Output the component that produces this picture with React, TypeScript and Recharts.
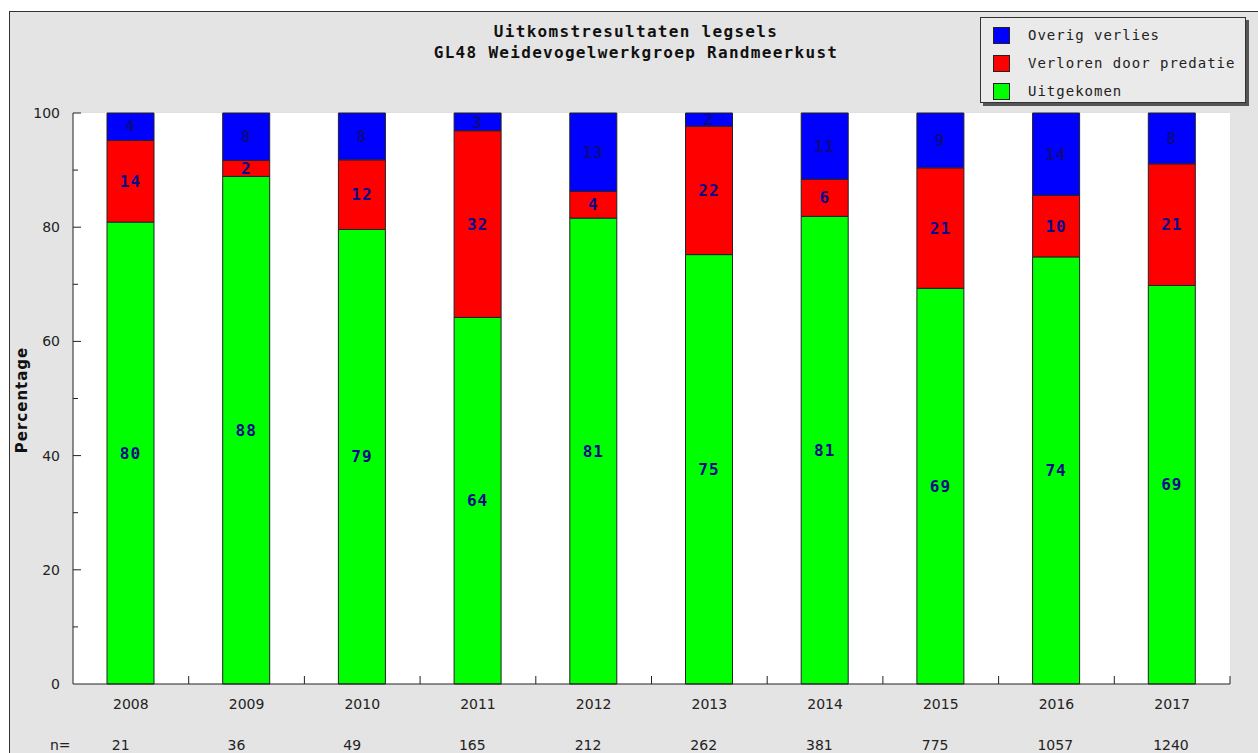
import React from 'react';
import {
 BarChart,
 Bar,
 XAxis,
 YAxis,
 CartesianGrid,
 LabelList,
 Legend
} from 'recharts';

const years = ['2008', '2009', '2010', '2011', '2012', '2013', '2014', '2015', '2016', '2017'];
const nCounts = [21, 36, 49, 165, 212, 262, 381, 775, 1057, 1240];
const uitgekomen = [80.9, 88.9, 79.6, 64.2, 81.6, 75.2, 81.9, 69.3, 74.8, 69.8];
const predatie = [14.3, 2.8, 12.2, 32.7, 4.7, 22.5, 6.5, 21.1, 10.8, 21.3];
const overig = [4.8, 8.3, 8.2, 3.1, 13.7, 2.3, 11.6, 9.6, 14.4, 8.9];
const yTicks = [0, 10, 20, 30, 40, 50, 60, 70, 80, 90, 100];
const gridValues = [20, 40, 60, 80, 100];

const SERIES = [
 { key: 'overig', name: 'Overig verlies', color: '#0000ff' },
 { key: 'predatie', name: 'Verloren door predatie', color: '#ff0000' },
 { key: 'uitgekomen', name: 'Uitgekomen', color: '#00ff00' }
];

const data = years.map((year, i) => ({
 year,
 n: nCounts[i],
 uitgekomen: uitgekomen[i],
 predatie: predatie[i],
 overig: overig[i]
}));

const MONO = '"DejaVu Sans Mono", "Liberation Mono", monospace';
const SANS = '"DejaVu Sans", Verdana, sans-serif';
const BG = '#e4e4e4';

const YTick = (props: any) => {
 const { x, y, payload } = props;
 const v = payload.value;
 const major = v % 20 === 0;
 const ax = x + 13;
 return (
  <g>
   {v > 0 && <line x1={ax} x2={ax + (major ? 8 : 5)} y1={y} y2={y} stroke="#222" />}
   {major && (
    <text x={x} y={y + 5} textAnchor="end" fontFamily={SANS} fontSize={14} fill="#222">
     {v}
    </text>
   )}
  </g>
 );
};

const XTick = (props: any) => {
 const { x, y, payload, index } = props;
 const half = payload.offset || 0;
 const row = data.find(d => d.year === payload.value);
 return (
  <g>
   <line x1={x + half} x2={x + half} y1={y} y2={y - 8} stroke="#222" />
   <text x={x} y={y + 25} textAnchor="middle" fontFamily={SANS} fontSize={14} fill="#222">
    {payload.value}
   </text>
   <text x={x - 19} y={y + 66} textAnchor="start" fontFamily={SANS} fontSize={14} fill="#222">
    {row ? row.n : ''}
   </text>
   {index === 0 && (
    <text x={50} y={y + 66} fontFamily={SANS} fontSize={14} fill="#222">
     n=
    </text>
   )}
  </g>
 );
};

const LegendBox = () => (
 <div
  style={{
   width: 266,
   height: 86,
   background: '#eaeaea',
   border: '1px solid #333',
   boxShadow: '3px 3px 0 #555',
   boxSizing: 'border-box',
   paddingTop: 3
  }}
 >
  {SERIES.map(s => (
   <div key={s.key} style={{ display: 'flex', alignItems: 'center', height: 28 }}>
    <span
     style={{
      display: 'inline-block',
      width: 15,
      height: 15,
      marginLeft: 12,
      background: s.color,
      border: '1px solid #222'
     }}
    />
    <span
     style={{
      marginLeft: 18,
      fontFamily: MONO,
      fontSize: 14,
      letterSpacing: 1,
      color: '#222'
     }}
    >
     {s.name}
    </span>
   </div>
  ))}
 </div>
);

export default function App() {
 return (
  <div style={{ position: 'absolute', left: 0, top: 0, width: 1258, height: 753, background: '#fff', overflow: 'hidden' }}>
   <div
    style={{
     position: 'absolute',
     left: 9,
     top: 11,
     width: 1260,
     height: 760,
     background: BG,
     borderTop: '1px solid #333',
     borderLeft: '1px solid #333'
    }}
   />
   <div
    style={{
     position: 'absolute',
     left: 0,
     top: 21,
     width: 1272,
     textAlign: 'center',
     fontFamily: MONO,
     fontWeight: 'bold',
     fontSize: 16,
     letterSpacing: 1.3,
     lineHeight: '21px',
     color: '#111'
    }}
   >
    <div>Uitkomstresultaten legsels</div>
    <div>GL48 Weidevogelwerkgroep Randmeerkust</div>
   </div>
   <div style={{ position: 'absolute', left: 0, top: 0 }}>
    <BarChart
     width={1258}
     height={753}
     data={data}
     margin={{ top: 113, right: 28, bottom: 9, left: 13 }}
     barSize={47}
    >
     <rect x={73} y={113} width={1157} height={571} fill="#fff" />
     <CartesianGrid vertical={false} horizontalValues={gridValues} stroke="#dcdcdc" fill="#fff" />
     <XAxis
      dataKey="year"
      height={60}
      tickSize={0}
      tickMargin={0}
      axisLine={{ stroke: '#222' }}
      tickLine={false}
      tick={<XTick />}
      interval={0}
     />
     <YAxis
      width={60}
      domain={[0, 100]}
      ticks={yTicks}
      interval={0}
      tickSize={0}
      tickMargin={13}
      axisLine={{ stroke: '#222' }}
      tickLine={false}
      tick={<YTick />}
      label={{
       content: () => (
        <text
         x={27}
         y={400}
         transform="rotate(-90 27 400)"
         textAnchor="middle"
         fontFamily={SANS}
         fontWeight="bold"
         fontSize={15}
         letterSpacing={1}
         fill="#111"
        >
         Percentage
        </text>
       )
      }}
     />
     <Legend
      layout="vertical"
      align="center"
      verticalAlign="middle"
      content={<LegendBox />}
      wrapperStyle={{ left: 980, top: 17, width: 266, height: 86 }}
     />
     {[...SERIES].reverse().map(s => (
      <Bar
       key={s.key}
       dataKey={s.key}
       name={s.name}
       stackId="a"
       fill={s.color}
       stroke="#222"
       strokeWidth={1}
       isAnimationActive={false}
      >
       <LabelList
        dataKey={s.key}
        position="center"
        formatter={(v: any) => Math.floor(Number(v))}
        fill="#0a0a8a"
        fontFamily={MONO}
        fontWeight="bold"
        fontSize={16}
        letterSpacing={1}
       />
      </Bar>
     ))}
    </BarChart>
   </div>
  </div>
 );
}
